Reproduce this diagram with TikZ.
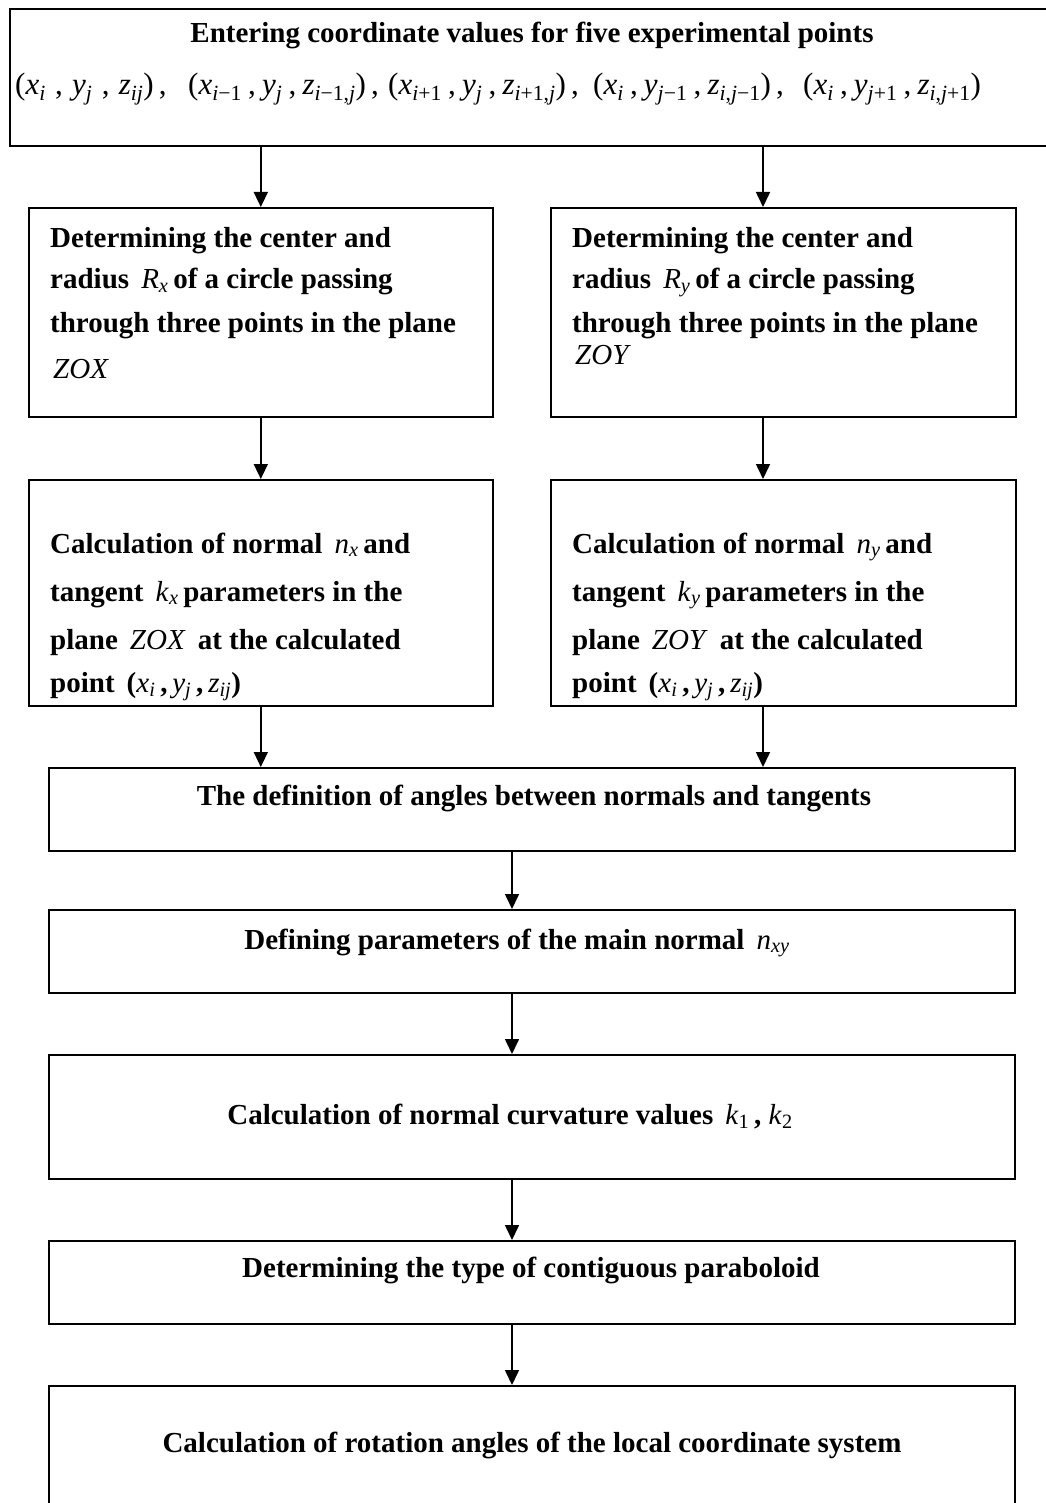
\documentclass[tikz,border=0pt]{standalone}
\usepackage{fontspec}
\setmainfont{Liberation Serif}
\usetikzlibrary{arrows.meta}
\newcommand\iv[1]{\textit{\mdseries #1}}
\newcommand\sv[2]{\iv{#1}\textsubscript{\mdseries #2}}
\newcommand\trip[3]{(#1\,,\,#2\,,\,#3)}
\newcommand\tripw[4]{(#2\hspace{#1},\hspace{#1}#3\hspace{#1},\hspace{#1}#4)}
\tikzset{
  box/.style={draw, line width=1.6pt, anchor=north west, inner sep=0pt},
  ln/.style={anchor=base west, inner sep=0pt, font=\bfseries\fontsize{29}{35}\selectfont},
  cl/.style={anchor=base, inner sep=0pt, font=\bfseries\fontsize{29}{35}\selectfont},
  fm/.style={anchor=base west, inner sep=0pt, font=\fontsize{31}{36}\selectfont},
  arr/.style={-{Triangle[width=14pt,length=15pt]}, line width=1.6pt}
}
\begin{document}
\begin{tikzpicture}[x=1pt,y=-1pt]
\useasboundingbox[fill=white] (0,0) rectangle (1045,1503);
% boxes
\node[box, minimum width=1051pt, minimum height=137pt] (top) at (9,8) {};
\node[box, minimum width=464pt, minimum height=209pt] (l1) at (28,207) {};
\node[box, minimum width=465pt, minimum height=209pt] (r1) at (550,207) {};
\node[box, minimum width=464pt, minimum height=226pt] (l2) at (28,479) {};
\node[box, minimum width=465pt, minimum height=226pt] (r2) at (550,479) {};
\node[box, minimum width=966pt, minimum height=83pt] (def) at (48,767) {};
\node[box, minimum width=966pt, minimum height=83pt] (mn) at (48,909) {};
\node[box, minimum width=966pt, minimum height=124pt] (cv) at (48,1054) {};
\node[box, minimum width=966pt, minimum height=83pt] (pb) at (48,1240) {};
\node[box, minimum width=966pt, minimum height=150pt] (rot) at (48,1385) {};
% texts
\node[cl] (t0) at (532,43) {Entering coordinate values for five experimental points};
\node[fm] (p1) at (15,95) {\tripw{0.3em}{\sv{x}{\iv{i}}}{\sv{y}{\iv{j}}}{\sv{z}{\iv{ij}}}\,,};
\node[fm] (p2) at (188,95) {\tripw{0.2em}{\sv{x}{\iv{i}−1}}{\sv{y}{\iv{j}}}{\sv{z}{\iv{i}−1,\iv{j}}}\,,};
\node[fm] (p3) at (388,95) {\tripw{0.2em}{\sv{x}{\iv{i}+1}}{\sv{y}{\iv{j}}}{\sv{z}{\iv{i}+1,\iv{j}}}\,,};
\node[fm] (p4) at (593,95) {\tripw{0.2em}{\sv{x}{\iv{i}}}{\sv{y}{\iv{j}−1}}{\sv{z}{\iv{i},\iv{j}−1}}\,,};
\node[fm] (p5) at (803,95) {\tripw{0.2em}{\sv{x}{\iv{i}}}{\sv{y}{\iv{j}+1}}{\sv{z}{\iv{i},\iv{j}+1}}};
\node[ln] (a1) at (50,248) {Determining the center and};
\node[ln] (a2) at (50,289) {radius \,\sv{R}{\iv{x}}\,of a circle passing};
\node[ln] (a3) at (50,332) {through three points in the plane};
\node[ln] (a4) at (53,378) {\iv{ZOX}};
\node[ln] (b1) at (572,248) {Determining the center and};
\node[ln] (b2) at (572,289) {radius \,\sv{R}{\iv{y}}\,of a circle passing};
\node[ln] (b3) at (572,332) {through three points in the plane};
\node[ln] (b4) at (575,364) {\iv{ZOY}};
\node[ln] (c1) at (50,553) {Calculation of normal \,\sv{n}{\iv{x}}\,and};
\node[ln] (c2) at (50,601) {tangent \,\sv{k}{\iv{x}}\,parameters in the};
\node[ln] (c3) at (50,649) {plane \,\iv{ZOX}\, at the calculated};
\node[ln] (c4) at (50,692) {point \,\trip{\sv{x}{\iv{i}}}{\sv{y}{\iv{j}}}{\sv{z}{\iv{ij}}}};
\node[ln] (d1) at (572,553) {Calculation of normal \,\sv{n}{\iv{y}}\,and};
\node[ln] (d2) at (572,601) {tangent \,\sv{k}{\iv{y}}\,parameters in the};
\node[ln] (d3) at (572,649) {plane \,\iv{ZOY}\, at the calculated};
\node[ln] (d4) at (572,692) {point \,\trip{\sv{x}{\iv{i}}}{\sv{y}{\iv{j}}}{\sv{z}{\iv{ij}}}};
\node[cl] (e1) at (534,805) {The definition of angles between normals and tangents};
\node[cl] (f1) at (517,949) {Defining parameters of the main normal \,\sv{n}{\iv{xy}}};
\node[cl] (g1) at (510,1124) {Calculation of normal curvature values \,\sv{k}{1}\,, \sv{k}{2}};
\node[cl] (h1) at (531,1277) {Determining the type of contiguous paraboloid};
\node[cl] (i1) at (532,1452) {Calculation of rotation angles of the local coordinate system};
% connectors
\draw[arr] (top.south -| l1.north) -- (l1.north);
\draw[arr] (763,0 |- top.south) -- (763,0 |- r1.north);
\draw[arr] (l1.south) -- (l2.north);
\draw[arr] (763,0 |- r1.south) -- (763,0 |- r2.north);
\draw[arr] (l2.south) -- (l2.south |- def.north);
\draw[arr] (763,0 |- r2.south) -- (763,0 |- def.north);
\draw[arr] (512,0 |- def.south) -- (512,0 |- mn.north);
\draw[arr] (512,0 |- mn.south) -- (512,0 |- cv.north);
\draw[arr] (512,0 |- cv.south) -- (512,0 |- pb.north);
\draw[arr] (512,0 |- pb.south) -- (512,0 |- rot.north);
\end{tikzpicture}
\end{document}
